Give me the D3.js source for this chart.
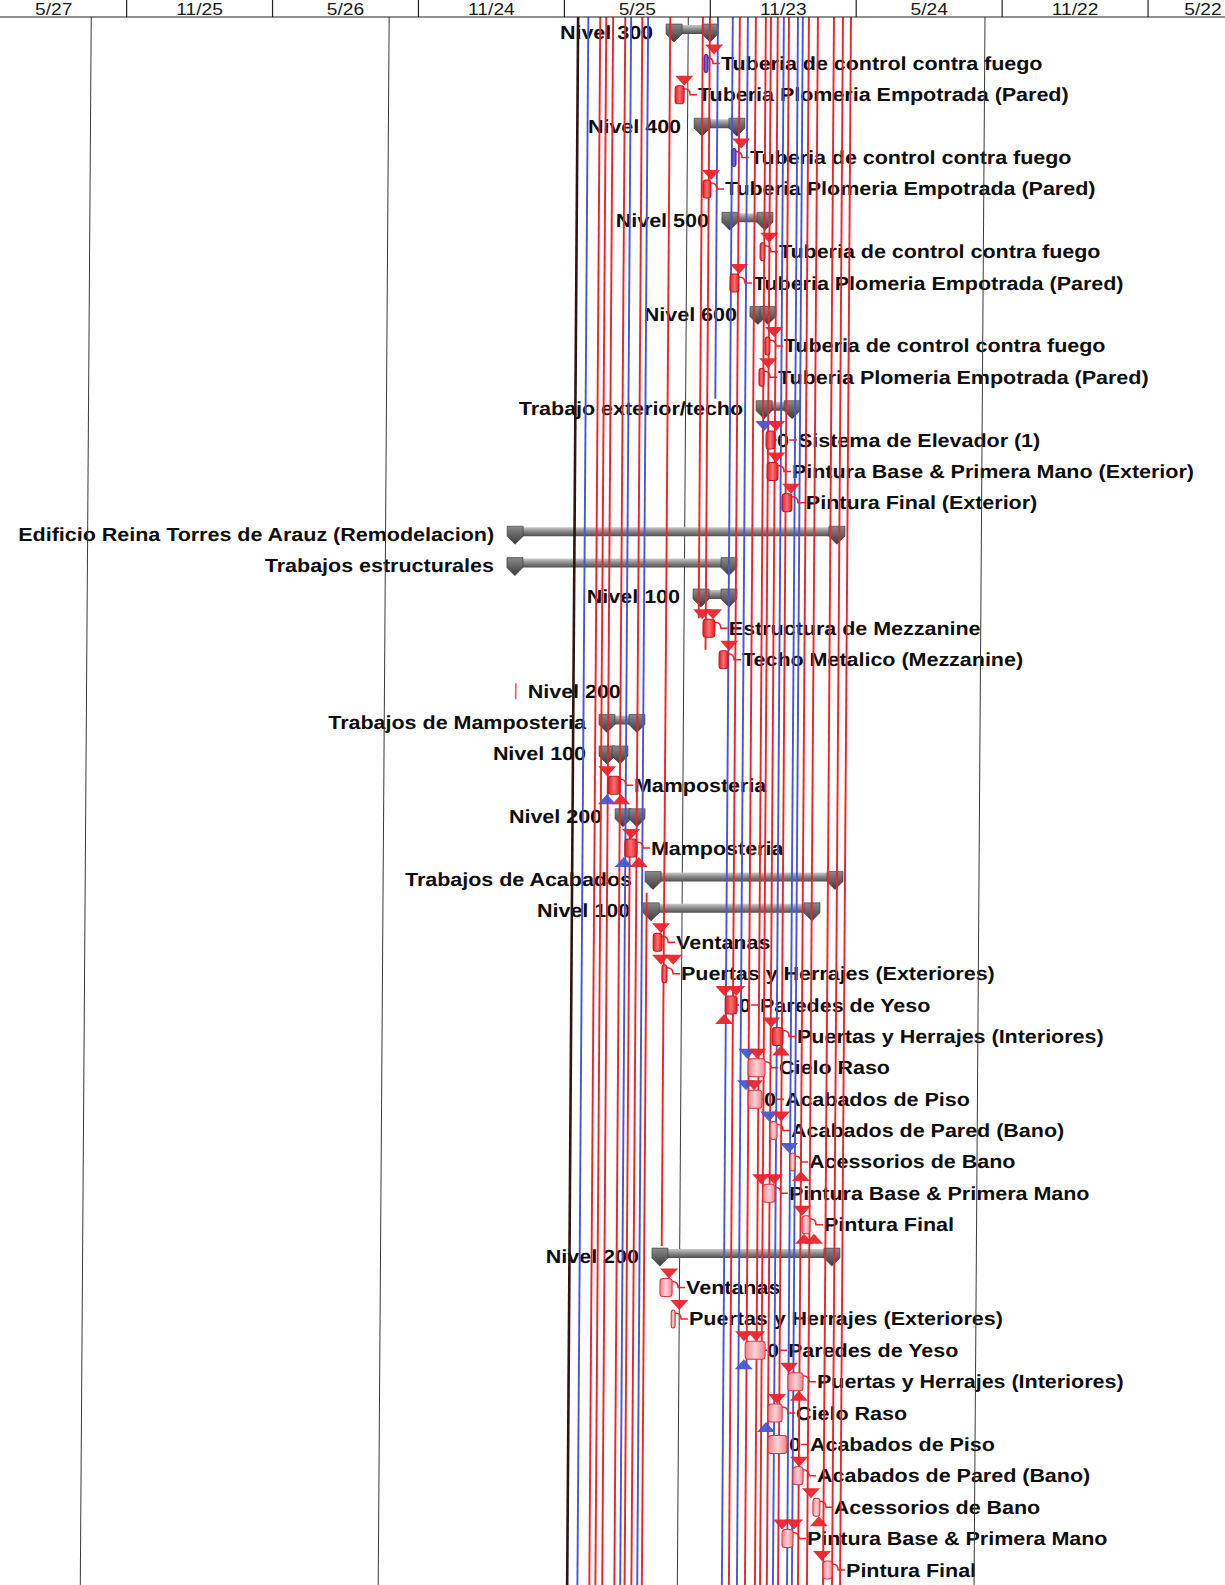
<!DOCTYPE html>
<html lang="es">
<head>
<meta charset="UTF-8">
<title>Cronograma</title>
<script src="https://cdn.jsdelivr.net/npm/d3@7"></script>
<style>
  html, body { margin: 0; padding: 0; background: #fff; overflow: hidden; }
  svg { display: block; }
  text { font-family: "Liberation Sans", Arial, sans-serif; }
</style>
</head>
<body>
<svg id="chart" width="1225" height="1585"></svg>
<script>
// header columns (half years), months counted from the left edge
var headerLabels = ["5/27", "11/25", "5/26", "11/24", "5/25", "11/23", "5/24", "11/22", "5/22"];

var taskNames = [
  "Nivel 300", "Tuberia de control contra fuego", "Tuberia Plomeria Empotrada (Pared)",
  "Nivel 400", "Tuberia de control contra fuego", "Tuberia Plomeria Empotrada (Pared)",
  "Nivel 500", "Tuberia de control contra fuego", "Tuberia Plomeria Empotrada (Pared)",
  "Nivel 600", "Tuberia de control contra fuego", "Tuberia Plomeria Empotrada (Pared)",
  "Trabajo exterior/techo", "Sistema de Elevador (1)", "Pintura Base & Primera Mano (Exterior)",
  "Pintura Final (Exterior)", "Edificio Reina Torres de Arauz (Remodelacion)", "Trabajos estructurales",
  "Nivel 100", "Estructura de Mezzanine", "Techo Metalico (Mezzanine)", "Nivel 200",
  "Trabajos de Mamposteria", "Nivel 100", "Mamposteria", "Nivel 200", "Mamposteria",
  "Trabajos de Acabados", "Nivel 100", "Ventanas", "Puertas y Herrajes (Exteriores)",
  "Paredes de Yeso", "Puertas y Herrajes  (Interiores)", "Cielo Raso", "Acabados de Piso",
  "Acabados de Pared (Bano)", "Acessorios de Bano", "Pintura Base & Primera Mano", "Pintura Final",
  "Nivel 200", "Ventanas", "Puertas y Herrajes (Exteriores)", "Paredes de Yeso",
  "Puertas y Herrajes  (Interiores)", "Cielo Raso", "Acabados de Piso", "Acabados de Pared (Bano)",
  "Acessorios de Bano", "Pintura Base & Primera Mano", "Pintura Final"
];
// s = summary, t = task, c = blue task, p = pale task, m = empty marker
var taskKinds = ["s","c","t","s","c","t","s","t","t","s","t","t","s","t","t","t","s","s","s","t",
                 "t","m","s","s","t","s","t","s","s","t","t","t","t","p","p","p","p","p","p","s",
                 "p","p","p","p","p","p","p","p","p","p"];
var taskStart = [28.19, 29.76, 28.58, 29.37, 30.94, 29.75, 30.54, 32.12, 30.89, 31.72,
                 32.35, 32.11, 32.00, 32.42, 32.47, 33.09, 21.80, 21.80, 29.46, 29.88,
                 30.55, 22.20, 25.63, 25.64, 26.02, 26.32, 26.73, 27.57, 27.50, 27.92,
                 28.29, 30.90, 32.84, 31.86, 31.87, 32.78, 33.61, 32.51, 34.12, 27.96,
                 28.30, 28.77, 31.82, 33.59, 32.78, 32.79, 33.82, 34.65, 33.39, 35.09];
var taskEnd   = [30.33, 29.88, 28.95, 31.46, 31.10, 30.08, 32.64, 32.32, 31.26, 32.79,
                 32.55, 32.32, 33.81, 32.79, 32.92, 33.50, 35.69, 31.26, 31.27, 30.37,
                 30.92, 22.20, 27.52, 26.83, 26.51, 27.55, 27.23, 35.71, 34.77, 28.29,
                 28.50, 31.39, 33.29, 32.56, 32.44, 33.07, 33.82, 33.00, 34.45, 35.69,
                 28.80, 28.93, 32.64, 34.21, 33.36, 33.57, 34.24, 34.94, 33.84, 35.46];
var zeroRows = [13, 31, 34, 42, 45];

var gridMonths = [4.55, 16.8, 29.1, 41.3];

// long vertical link lines: month, kind (k dark, b blue, r red), first row, last row
var lineMonths = [24.57, 24.99, 25.48, 25.73, 26.01, 26.51, 26.75, 26.93, 27.21, 27.45, 27.64,
                  28.36, 29.70, 29.99, 30.32, 30.93, 31.22, 31.55, 31.88, 32.29, 32.50, 32.78,
                  33.03, 33.24, 33.61, 33.81, 34.06, 34.43, 35.09, 35.46, 35.79];
var lineKinds  = ["k","b","r","r","r","r","b","r","r","b","r",
                  "r","r","r","b","b","r","b","r","r","r","r",
                  "b","r","b","b","r","r","r","r","r"];
var lineFrom   = [-1,-1,-1,-1,-1,-1,-1,26,-1,-1,28,
                  -1,-1,-1,-1,-1,-1,-1,-1,-1,-1,-1,
                  -1,-1,-1,-1,-1,-1,-1,-1,-1];
var lineTo     = [50,50,50,50,50,50,50,50,50,50,50,
                  39,19,20,12,50,50,50,50,50,50,50,
                  50,50,50,50,50,50,50,50,50];

// arrow heads on the links: row, month, d = above bar / u = below bar, colour kind
var arrowRows   = [1,2,4,5,7,8,10,11, 13,13,14,15, 19,19,20, 24,24,24, 26,26,26, 29,30,30,
                   31,31,31, 32,32, 33,33, 34,34, 35,35, 36,36, 37,37, 38,38,38, 40,41,
                   42,42,42, 43,43, 44,44, 46, 47,47, 48,48, 49];
var arrowMonths = [29.80,28.58,30.94,29.71,32.12,30.89,32.35,32.11, 31.97,32.46,32.47,33.09,
                   29.47,29.92,30.59, 25.61,25.61,26.19, 26.61,26.32,26.94, 27.87,27.88,28.38,
                   30.49,30.98,30.49, 32.43,32.84, 31.45,31.86, 31.41,31.74, 32.37,32.86,
                   33.20,33.69, 32.06,32.59, 33.75,33.84,34.25, 28.30,28.73, 31.40,31.90,31.40,
                   33.26,33.67, 32.78,32.33, 33.70, 34.20,34.53, 33.02,33.51, 34.67];
var arrowDirs   = ["d","d","d","d","d","d","d","d", "d","d","d","d", "d","d","d", "d","u","u",
                   "d","u","u", "d","d","d", "d","d","u", "d","u", "d","d", "d","d", "d","d",
                   "d","u", "d","d", "d","u","u", "d","d", "d","d","u", "d","u", "d","u", "d",
                   "d","u", "d","d", "d"];
var arrowKinds  = ["r","r","r","r","r","r","r","r", "b","r","r","r", "r","r","r", "r","b","r",
                   "r","b","r", "r","r","r", "r","r","r", "r","r", "b","r", "b","r", "b","r",
                   "b","r", "r","r", "r","r","r", "r","r", "r","r","b", "r","r", "r","b", "r",
                   "r","r", "r","r", "r"];

var W = 1225, H = 1585, HEAD = 17;
var RED = "#ee2229", BLUE = "#4656d4", DARK = "#2e1414";
var lineColor = { k: DARK, b: BLUE, r: RED };

var x = d3.scaleLinear().domain([0, 50]).range([-19.3, 1196.7]);
var y = d3.scaleLinear().domain([0, 49]).range([32, 1570]);

var svg = d3.select("#chart");
var defs = svg.append("defs");

function grad(id, stops, vertical) {
  var g = defs.append("linearGradient").attr("id", id)
    .attr("x1", 0).attr("y1", 0).attr("x2", vertical ? 0 : 1).attr("y2", vertical ? 1 : 0);
  stops.forEach(function(s) { g.append("stop").attr("offset", s[0]).attr("stop-color", s[1]); });
}
grad("sumBar", [[0, "#c9c9c9"], [0.45, "#8c8c8c"], [1, "#4d4d4d"]], true);
grad("sumCap", [[0, "#8a8a8a"], [1, "#3a3a3a"]], true);
grad("redBar", [[0, "#e01a22"], [0.5, "#ff7070"], [1, "#e01a22"]], false);
grad("paleBar", [[0, "#f2838b"], [0.5, "#fcd3d6"], [1, "#f2838b"]], false);
grad("blueBar", [[0, "#3d3fc8"], [0.5, "#8a6ad8"], [1, "#3d3fc8"]], false);

var rows = taskNames.map(function(n, i) {
  return { i: i, name: n, kind: taskKinds[i], s: taskStart[i], e: taskEnd[i],
           zero: zeroRows.indexOf(i) >= 0 };
});

var body = svg.append("g").attr("transform", "skewX(-0.4)");
var SX = 1.13, FS = 19;

// labels first: the lines run over them as in the print
var labels = body.append("g").attr("fill", "#0e0e0e").attr("font-weight", "bold").attr("font-size", FS);
rows.forEach(function(d) {
  var yc = y(d.i), lx, anchor = "start";
  if (d.kind === "s") { lx = x(d.s) - 13; anchor = "end"; }
  else if (d.kind === "m") { lx = x(d.s) + 12; }
  else { lx = x(d.e) + (d.zero ? 23 : 14); }
  d.lx = lx;
  labels.append("text")
    .attr("transform", "translate(" + lx + "," + (yc + 6.5) + ") scale(" + SX + ",1)")
    .attr("text-anchor", anchor)
    .text(d.name);
  if (d.zero) {
    labels.append("text")
      .attr("transform", "translate(" + (x(d.e) + 2) + "," + (yc + 6.5) + ") scale(" + SX + ",1)")
      .text("0");
  }
});

// year grid
body.append("g").selectAll("line").data(gridMonths).join("line")
  .attr("x1", function(d) { return x(d); }).attr("x2", function(d) { return x(d); })
  .attr("y1", HEAD).attr("y2", H + 20)
  .attr("stroke", "#3a3a3a").attr("stroke-width", 1);

// summary bars
var sum = body.append("g");
rows.filter(function(d) { return d.kind === "s"; }).forEach(function(d) {
  var yc = y(d.i), x0 = x(d.s), x1 = x(d.e);
  sum.append("rect").attr("x", x0 + 4).attr("y", yc - 7).attr("width", Math.max(0, x1 - x0 - 8))
    .attr("height", 9).attr("fill", "url(#sumBar)");
  [x0 + 8, x1 - 8].forEach(function(cx) {
    var pts = [[cx - 8, yc - 8], [cx + 8, yc - 8], [cx + 8, yc + 2], [cx, yc + 10], [cx - 8, yc + 2]];
    sum.append("polygon").attr("points", pts.map(function(p) { return p.join(","); }).join(" "))
      .attr("fill", "url(#sumCap)").attr("stroke", "#333").attr("stroke-width", 0.6);
  });
});

// long link lines
var lines = d3.range(lineMonths.length).map(function(i) {
  return { m: lineMonths[i], k: lineKinds[i], f: lineFrom[i], t: lineTo[i] };
});
body.append("g").selectAll("line").data(lines).join("line")
  .attr("x1", function(d) { return x(d.m); }).attr("x2", function(d) { return x(d.m); })
  .attr("y1", function(d) { return d.f < 0 ? HEAD : y(d.f) - 18; })
  .attr("y2", function(d) { return d.t > 49 ? H + 20 : y(d.t) - 10; })
  .attr("stroke", function(d) { return lineColor[d.k]; })
  .attr("stroke-width", function(d) { return d.k === "k" ? 2.6 : 1.9; });

// connectors from bar to label
var con = body.append("g").attr("stroke", RED).attr("stroke-width", 1.5).attr("fill", "none");
rows.filter(function(d) { return "tcp".indexOf(d.kind) >= 0; }).forEach(function(d) {
  var yc = y(d.i), xe = x(d.e);
  if (d.zero) {
    con.append("line").attr("x1", xe).attr("x2", xe + 2).attr("y1", yc).attr("y2", yc);
    con.append("line").attr("x1", xe + 14).attr("x2", d.lx - 1).attr("y1", yc).attr("y2", yc);
  } else {
    con.append("path").attr("d", "M" + xe + "," + (yc - 6) + " q6,0 6,6 L" + (d.lx - 1) + "," + yc);
  }
});

// task bars
var fillFor = { t: "url(#redBar)", p: "url(#paleBar)", c: "url(#blueBar)" };
var strokeFor = { t: "#c8141c", p: "#e0323a", c: "#3030b0" };
body.append("g").selectAll("rect")
  .data(rows.filter(function(d) { return "tcp".indexOf(d.kind) >= 0; })).join("rect")
  .attr("x", function(d) { return x(d.s); })
  .attr("y", function(d) { return y(d.i) - 9; })
  .attr("width", function(d) { return Math.max(4, x(d.e) - x(d.s)); })
  .attr("height", 18).attr("rx", 3)
  .attr("fill", function(d) { return fillFor[d.kind]; })
  .attr("stroke", function(d) { return strokeFor[d.kind]; }).attr("stroke-width", 1);

// empty summary marker
body.append("g").selectAll("line")
  .data(rows.filter(function(d) { return d.kind === "m"; })).join("line")
  .attr("x1", function(d) { return x(d.s); }).attr("x2", function(d) { return x(d.s); })
  .attr("y1", function(d) { return y(d.i) - 8; }).attr("y2", function(d) { return y(d.i) + 8; })
  .attr("stroke", "#e0607a").attr("stroke-width", 1.6);

// arrow heads
var arrows = d3.range(arrowRows.length).map(function(i) {
  return { r: arrowRows[i], m: arrowMonths[i], dir: arrowDirs[i], k: arrowKinds[i] };
});
body.append("g").selectAll("polygon").data(arrows).join("polygon")
  .attr("points", function(d) {
    var x0 = x(d.m), yc = y(d.r);
    var pts = d.dir === "d"
      ? [[x0, yc - 19], [x0 + 18, yc - 19], [x0 + 9, yc - 9]]
      : [[x0, yc + 19], [x0 + 18, yc + 19], [x0 + 9, yc + 9]];
    return pts.map(function(p) { return p.join(","); }).join(" ");
  })
  .attr("fill", function(d) { return d.k === "b" ? BLUE : RED; })
  .attr("opacity", 0.95);

// header band
var head = svg.append("g");
head.append("rect").attr("x", 0).attr("y", 0).attr("width", W).attr("height", HEAD).attr("fill", "#fff");
head.append("line").attr("x1", 0).attr("x2", W).attr("y1", HEAD).attr("y2", HEAD)
  .attr("stroke", "#222").attr("stroke-width", 1.2);
head.selectAll("line.tick").data(d3.range(1, headerLabels.length)).join("line")
  .attr("class", "tick")
  .attr("x1", function(k) { return x(6 * k); }).attr("x2", function(k) { return x(6 * k); })
  .attr("y1", 0).attr("y2", HEAD).attr("stroke", "#222").attr("stroke-width", 1.2);
head.selectAll("text").data(headerLabels).join("text")
  .attr("transform", function(d, k) {
    // keep the last column label inside the page
    var cx = Math.min(x(6 * k + 3), W - 22);
    return "translate(" + cx + ",14.6) scale(" + SX + ",1)";
  })
  .attr("text-anchor", "middle").attr("font-size", 17).attr("fill", "#1a1a1a")
  .text(function(d) { return d; });
</script>
</body>
</html>
